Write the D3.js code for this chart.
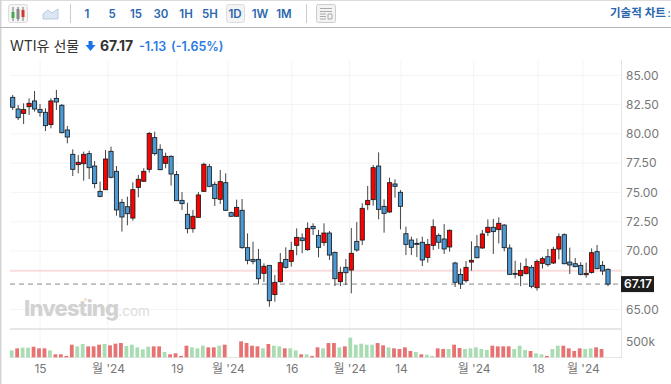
<!DOCTYPE html>
<html><head><meta charset="utf-8">
<script src="https://cdn.jsdelivr.net/npm/d3@7"></script>
<style>html,body{margin:0;padding:0;background:#fff;overflow:hidden}svg{display:block}text{font-family:Inter,"Noto Sans CJK KR",sans-serif}</style>
</head><body><svg id="c" width="671" height="384"></svg>
<script>
const opens=[83.12,82.12,81.75,82.32,82.81,82.09,81.84,80.79,83.03,82.44,80.33,78.25,77.37,77.45,78.31,77.25,75.09,75.23,78.51,76.80,74.15,73.78,72.81,75.43,75.95,76.97,79.68,78.68,77.48,78.08,76.52,74.32,73.13,71.90,72.87,75.09,77.20,75.69,74.41,75.83,73.27,72.96,73.47,70.28,69.28,69.28,68.09,68.77,66.27,67.38,69.28,69.11,70.48,71.11,70.11,72.10,71.33,70.71,71.53,69.88,67.38,68.60,68.37,70.82,70.93,73.95,74.38,77.25,73.81,73.33,75.72,75.01,71.47,70.93,70.65,70.74,69.45,70.48,71.33,71.02,70.34,68.97,68.00,67.46,69.05,70.36,70.25,71.59,72.02,71.82,72.21,70.25,68.09,67.89,68.06,68.60,66.86,68.94,69.51,68.97,70.16,71.39,69.05,68.91,68.77,67.97,68.17,69.94,68.77,68.43];
const highs=[83.32,82.46,82.61,83.03,83.66,82.55,82.18,83.03,83.75,82.55,80.67,78.68,78.19,78.48,78.56,77.68,75.92,78.62,78.91,77.25,74.44,74.64,75.86,76.49,77.06,80.16,80.19,79.11,78.39,78.17,76.83,75.03,74.12,73.50,75.03,77.54,77.43,75.92,76.91,76.63,73.35,74.38,74.44,71.50,70.79,70.17,68.94,68.80,67.95,69.82,70.31,70.79,71.93,71.50,72.44,72.36,71.79,72.36,71.70,69.94,68.66,69.31,71.96,72.47,74.07,75.55,77.34,78.42,74.41,76.26,76.12,75.20,72.07,71.22,71.08,71.22,71.02,72.70,71.50,72.30,71.84,69.08,68.51,69.14,70.82,71.36,71.79,72.70,72.73,72.87,72.30,70.56,69.17,69.00,69.37,68.80,69.28,69.51,70.16,70.36,71.50,71.50,70.28,69.40,69.03,69.00,70.22,70.51,69.14,68.51];
const lows=[82.04,81.18,80.84,81.61,81.90,81.47,80.24,80.47,82.04,80.04,79.19,76.40,76.63,76.00,76.14,75.35,74.58,75.20,76.20,73.01,71.65,72.19,72.59,74.58,75.89,76.69,78.14,76.89,77.06,75.58,74.27,73.50,71.50,71.56,72.84,75.06,75.43,73.84,74.01,73.41,72.93,72.93,70.19,68.86,68.86,67.15,67.35,65.24,65.67,67.29,68.49,68.66,69.63,69.80,70.02,71.36,69.45,70.42,69.23,67.00,67.00,67.09,66.38,69.94,70.51,73.50,73.87,72.70,71.56,73.24,74.55,71.84,69.65,69.65,69.48,68.71,69.00,70.08,70.17,69.74,69.94,66.92,66.75,67.29,68.31,69.37,70.19,71.28,69.74,70.65,69.97,67.94,67.66,67.00,68.00,66.81,66.61,68.49,68.66,68.88,69.28,68.86,68.03,68.60,67.92,67.72,68.06,68.43,67.94,67.00];
const closes=[82.27,81.38,82.07,82.61,82.12,81.84,80.70,82.81,82.72,80.10,79.73,76.97,77.57,78.25,77.11,75.75,74.66,77.85,76.29,73.50,72.90,73.18,75.23,76.12,76.80,80.04,78.31,76.94,78.08,76.57,74.29,74.04,71.90,72.96,74.78,77.40,75.52,74.47,75.92,73.47,72.96,73.72,70.28,69.20,69.11,67.63,68.69,65.75,67.32,69.00,68.60,70.05,71.16,70.88,71.93,71.90,70.31,71.53,69.65,67.63,68.17,68.14,69.80,70.08,73.64,74.32,77.11,73.55,73.21,75.83,75.52,73.81,70.56,70.31,70.62,69.23,70.56,72.07,70.74,70.17,71.76,67.32,67.18,68.60,69.20,69.42,71.45,72.02,71.65,72.36,70.28,68.00,68.06,68.34,68.66,66.98,69.11,69.34,68.83,70.14,71.22,68.91,68.80,68.66,68.00,68.09,69.85,68.49,68.29,67.17];
const volumes=[223,287,309,309,340,287,287,223,96,96,43,404,351,426,351,351,404,426,383,436,457,362,404,319,255,340,351,351,170,96,128,43,372,319,287,372,319,319,372,404,5,5,511,457,372,351,287,426,372,351,287,287,223,96,96,43,319,287,457,457,319,351,628,404,436,404,404,457,383,319,287,266,319,202,170,96,85,43,287,266,266,404,298,266,287,319,266,234,372,351,351,351,266,372,234,202,128,96,43,266,372,372,287,202,287,266,287,319,266];
const volumeDir="GRGGRRRGRR"+"RRGGRRRGRR"+"RGGGGGRRGR"+"RRRGGGRRGR"+"GGRRRRGRGG"+"RGGRGRRGRR"+"GRGGGGGRRG"+"RRRRGRGGRR"+"GRRGGGGGRR"+"RRGGGRGGRG"+"GRRRRGGRR";
const priceTicks=[85,82.5,80,77.5,75,72.5,70,65];
const lastPrice=67.17, refPrice=68.3;
const volumeTick=[500];
const dateTickPos=[5,17.44,30.07,39.4,51.1,61.65,71.1,84.4,96.2,104.4];
const dateTickLabels=["15","월 '24","19","월 '24","16","월 '24","14","월 '24","18","월 '24"];
const intervals=["1","5","15","30","1H","5H","1D","1W","1M"];
const intervalX=[87,112,136,161,186,210,235,260,284];

const svg=d3.select("#c");
const L=10,R=621;
const x=d3.scaleLinear().domain([0,109]).range([12.7,608]);
const y=d3.scaleLinear().domain([85,65]).range([75.3,309.5]);
const v=d3.scaleLinear().domain([0,500]).range([357.3,341.7]);
const BLUE="#4b9ad6",RED="#ff0000";

// frame
svg.append("rect").attr("x",0).attr("y",0).attr("width",671).attr("height",1).attr("fill","#dcdcdc");
svg.append("rect").attr("x",0).attr("y",0).attr("width",1.5).attr("height",384).attr("fill","#d4d4d4");
svg.append("rect").attr("x",0).attr("y",27).attr("width",671).attr("height",1).attr("fill","#b4b4b4");

// toolbar
const tb=svg.append("g");
tb.append("rect").attr("x",8.5).attr("y",4.5).attr("width",19).attr("height",18).attr("rx",2).attr("fill","#f4f4f4").attr("stroke","#ddd");
[[13,"#3fae4a",12,18],[18,"#888",9,19],[23,"#d9342b",10,17]].forEach(d=>{
 tb.append("line").attr("x1",d[0]).attr("x2",d[0]).attr("y1",7).attr("y2",21).attr("stroke","#777");
 tb.append("rect").attr("x",d[0]-1.5).attr("y",d[2]).attr("width",3).attr("height",d[3]-d[2]).attr("fill",d[1]);
});
tb.append("path").attr("d","M43 19V14L48 10L52 13L58 9V19Z").attr("fill","#dbe6f2").attr("stroke","#b5cbe2");
tb.append("rect").attr("x",70).attr("y",4).attr("width",1).attr("height",19).attr("fill","#ccc");
tb.append("rect").attr("x",306).attr("y",4).attr("width",1).attr("height",19).attr("fill","#ccc");
tb.append("rect").attr("x",226.5).attr("y",4.5).attr("width",18).attr("height",18).attr("rx",2).attr("fill","#f3f3f3").attr("stroke","#ddd");
tb.selectAll("text.iv").data(intervals).join("text").attr("class","iv")
 .attr("x",(d,i)=>intervalX[i]).attr("y",18).attr("text-anchor","middle").attr("font-size",11.5).attr("font-weight",600).attr("fill","#2a67ad").text(d=>d);
tb.append("rect").attr("x",316.5).attr("y",4.5).attr("width",19).attr("height",18).attr("rx",2).attr("fill","#f3f3f3").attr("stroke","#ccc");
tb.append("path").attr("d","M320 8.5H332M320 11.5H332M320 14H326M320 16.5H326M320 19H326M328 14H332V19H328Z").attr("stroke","#aaa").attr("fill","none");
tb.append("text").attr("x",610).attr("y",17).attr("font-size",11.5).attr("font-weight",600).attr("fill","#2a67ad").text("기술적 차트");
tb.append("text").attr("x",669).attr("y",17).attr("text-anchor","middle").attr("font-size",11).attr("fill","#2a67ad").text(":");

// title
const t=svg.append("g");
t.append("text").attr("x",10).attr("y",51).attr("font-size",14).attr("fill","#333").text("WTI유 선물");
t.append("path").attr("d","M88.5 41h4v4h3l-5 6l-5-6h3z").attr("fill","#1a73e8");
t.append("text").attr("x",100).attr("y",51).attr("font-size",14).attr("font-weight",700).attr("fill","#333").text("67.17");
t.append("text").attr("x",139).attr("y",51).attr("font-size",12.5).attr("font-weight",600).attr("fill","#2a7be4").text("-1.13");
t.append("text").attr("x",171).attr("y",51).attr("font-size",12.5).attr("font-weight",600).attr("fill","#2a7be4").text("(-1.65%)");

// grid
const grid=svg.append("g").attr("stroke","#f4f4f4");
grid.selectAll("line.h").data(priceTicks).join("line").attr("class","h").attr("x1",L).attr("x2",R).attr("y1",d=>y(d)).attr("y2",d=>y(d));
grid.selectAll("line.v").data(dateTickPos).join("line").attr("class","v").attr("x1",d=>x(d)).attr("x2",d=>x(d)).attr("y1",60).attr("y2",357);

// watermark
const wm=svg.append("text").attr("x",24).attr("y",316);
wm.append("tspan").attr("font-size",22).attr("font-weight",800).attr("letter-spacing",-0.8).attr("fill","#d2d2d2").text("Investing");
wm.append("tspan").attr("font-size",13.5).attr("fill","#dcdcdc").text(".com");
svg.append("circle").attr("cx",85.5).attr("cy",299.5).attr("r",1.4).attr("fill","#f6dfb8");

// panel lines
svg.append("rect").attr("x",L).attr("y",328).attr("width",R-L).attr("height",2).attr("fill","#e6e6e6");
svg.append("line").attr("x1",L).attr("x2",R).attr("y1",357.5).attr("y2",357.5).attr("stroke","#e6e6e6");

// reference lines
svg.append("line").attr("x1",L).attr("x2",R).attr("y1",y(refPrice)).attr("y2",y(refPrice)).attr("stroke","#fbdcdc").attr("stroke-width",2);
svg.append("line").attr("x1",L).attr("x2",R).attr("y1",y(lastPrice)).attr("y2",y(lastPrice)).attr("stroke","#888").attr("stroke-dasharray","5 4");

// volume
const volG=svg.append("g");
volG.selectAll("rect").data(volumes).join("rect")
 .attr("x",(d,i)=>x(i)-1-1.9).attr("width",3.8)
 .attr("y",d=>v(d)).attr("height",d=>v(0)-v(d))
 .attr("fill",(d,i)=>volumeDir[i]==="R"?"#e67272":"#aadcb4");

// candles
const cG=svg.append("g");
const idx=d3.range(opens.length);
cG.selectAll("line").data(idx).join("line")
 .attr("x1",i=>x(i)).attr("x2",i=>x(i)).attr("y1",i=>y(highs[i])).attr("y2",i=>y(lows[i]))
 .attr("stroke","#444");
cG.selectAll("rect").data(idx).join("rect")
 .attr("x",i=>x(i)-2.1).attr("width",4.2)
 .attr("y",i=>y(Math.max(opens[i],closes[i])))
 .attr("height",i=>Math.max(1,Math.abs(y(opens[i])-y(closes[i]))))
 .attr("fill",i=>closes[i]>opens[i]?RED:BLUE).attr("stroke","#1a1a1a").attr("stroke-width",0.85);

// axes
const ya=svg.append("g").attr("transform",`translate(${R},0)`).call(d3.axisRight(y).tickValues(priceTicks).tickSize(0).tickPadding(5).tickFormat(d3.format(".2f")));
const va=svg.append("g").attr("transform",`translate(${R},0)`).call(d3.axisRight(v).tickValues(volumeTick).tickSize(0).tickPadding(5).tickFormat(d=>d+"k"));
const xa=svg.append("g").attr("transform","translate(0,357)").call(d3.axisBottom(x).tickValues(dateTickPos).tickSize(0).tickPadding(7).tickFormat((d,i)=>dateTickLabels[i]));
[ya,va,xa].forEach(g=>{g.selectAll("text").attr("font-size",12).attr("fill","#777").style("font-family",'Inter,"Noto Sans CJK KR",sans-serif');g.select(".domain").remove();});
svg.append("line").attr("x1",R+.5).attr("x2",R+.5).attr("y1",60).attr("y2",358).attr("stroke","#e3e3e3");

// last price label
svg.append("rect").attr("x",621).attr("y",y(lastPrice)-8).attr("width",33).attr("height",16).attr("fill","#1d1d1d");
svg.append("text").attr("x",624).attr("y",y(lastPrice)+4.3).attr("font-size",12).attr("font-weight",600).attr("fill","#fff").text("67.17");
</script></body></html>
